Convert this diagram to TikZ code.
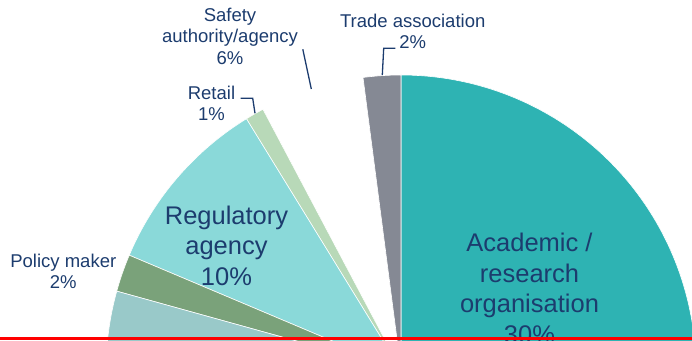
\documentclass[tikz,border=0pt]{standalone}
\usepackage{fontspec}
\setmainfont{Liberation Sans}

\definecolor{colAcad}{RGB}{46,179,179}
\definecolor{colTrade}{RGB}{133,137,148}
\definecolor{colRetail}{RGB}{184,217,184}
\definecolor{colReg}{RGB}{138,217,217}
\definecolor{colPolicy}{RGB}{122,162,122}
\definecolor{colOther}{RGB}{153,201,201}
\definecolor{colText}{RGB}{28,60,110}

\begin{document}
\begin{tikzpicture}[x=1pt, y=1pt,
  slice/.style={draw=white, line width=0.6pt},
  lbl/.style={text=colText, align=center, font=\fontsize{18.5}{21.5}\selectfont},
  biglbl/.style={text=colText, align=center, font=\fontsize{25.5}{30.5}\selectfont},
  leader/.style={draw=colText, line width=1.3pt}]

  \newcommand\PieR{295};

  \clip (0,0) rectangle (692,340);
  \coordinate (c) at (401,-30);

  %% slices, clockwise from the top
  \draw[slice, fill=colAcad]   (c) -- +(90:\PieR)    arc[start angle=90,    end angle=-18,   radius=\PieR] -- cycle;
  \draw[slice, fill=colTrade]  (c) -- +(90:\PieR)    arc[start angle=90,    end angle=97.4,  radius=\PieR] -- cycle;
  \draw[slice, fill=colRetail] (c) -- +(117.9:\PieR) arc[start angle=117.9, end angle=121.6, radius=\PieR] -- cycle;
  \draw[slice, fill=colReg]    (c) -- +(121.6:\PieR) arc[start angle=121.6, end angle=157.1, radius=\PieR] -- cycle;
  \draw[slice, fill=colPolicy] (c) -- +(157.1:\PieR) arc[start angle=157.1, end angle=164.5, radius=\PieR] -- cycle;
  \draw[slice, fill=colOther]  (c) -- +(164.5:\PieR) arc[start angle=164.5, end angle=200,   radius=\PieR] -- cycle;

  %% labels
  \node[biglbl] (acad) at (529.5,51.5) {Academic /\\research\\organisation\\30\%};
  \node[biglbl] (reg) at (226.5,94.2) {Regulatory\\agency\\10\%};
  \node[lbl] (policy) at (63.3,68.6) {Policy maker\\2\%};
  \node[lbl] (retail) at (211.5,236.8) {Retail\\1\%};
  \node[lbl] (safety) at (230,304) {Safety\\authority/agency\\6\%};
  \node[lbl] (trade) at (412.7,308.5) {Trade association\\2\%};

  %% leader lines
  \coordinate (safety end) at (302.8,290.7);
  \coordinate (safety tip) at (311.3,251);
  \coordinate (retail end) at (240.7,241.7);
  \coordinate (retail bend) at (252.7,241.7);
  \coordinate (retail tip) at (255,226.7);
  \coordinate (trade end) at (395.3,291.7);
  \coordinate (trade bend) at (383.7,291.7);
  \coordinate (trade tip) at (382.3,265);

  \draw[leader] (safety end) -- (safety tip);
  \draw[leader] (retail end) -- (retail bend) -- (retail tip);
  \draw[leader] (trade end) -- (trade bend) -- (trade tip);

  %% bottom rule
  \fill[red] (0,0) rectangle (692,3);
\end{tikzpicture}
\end{document}
